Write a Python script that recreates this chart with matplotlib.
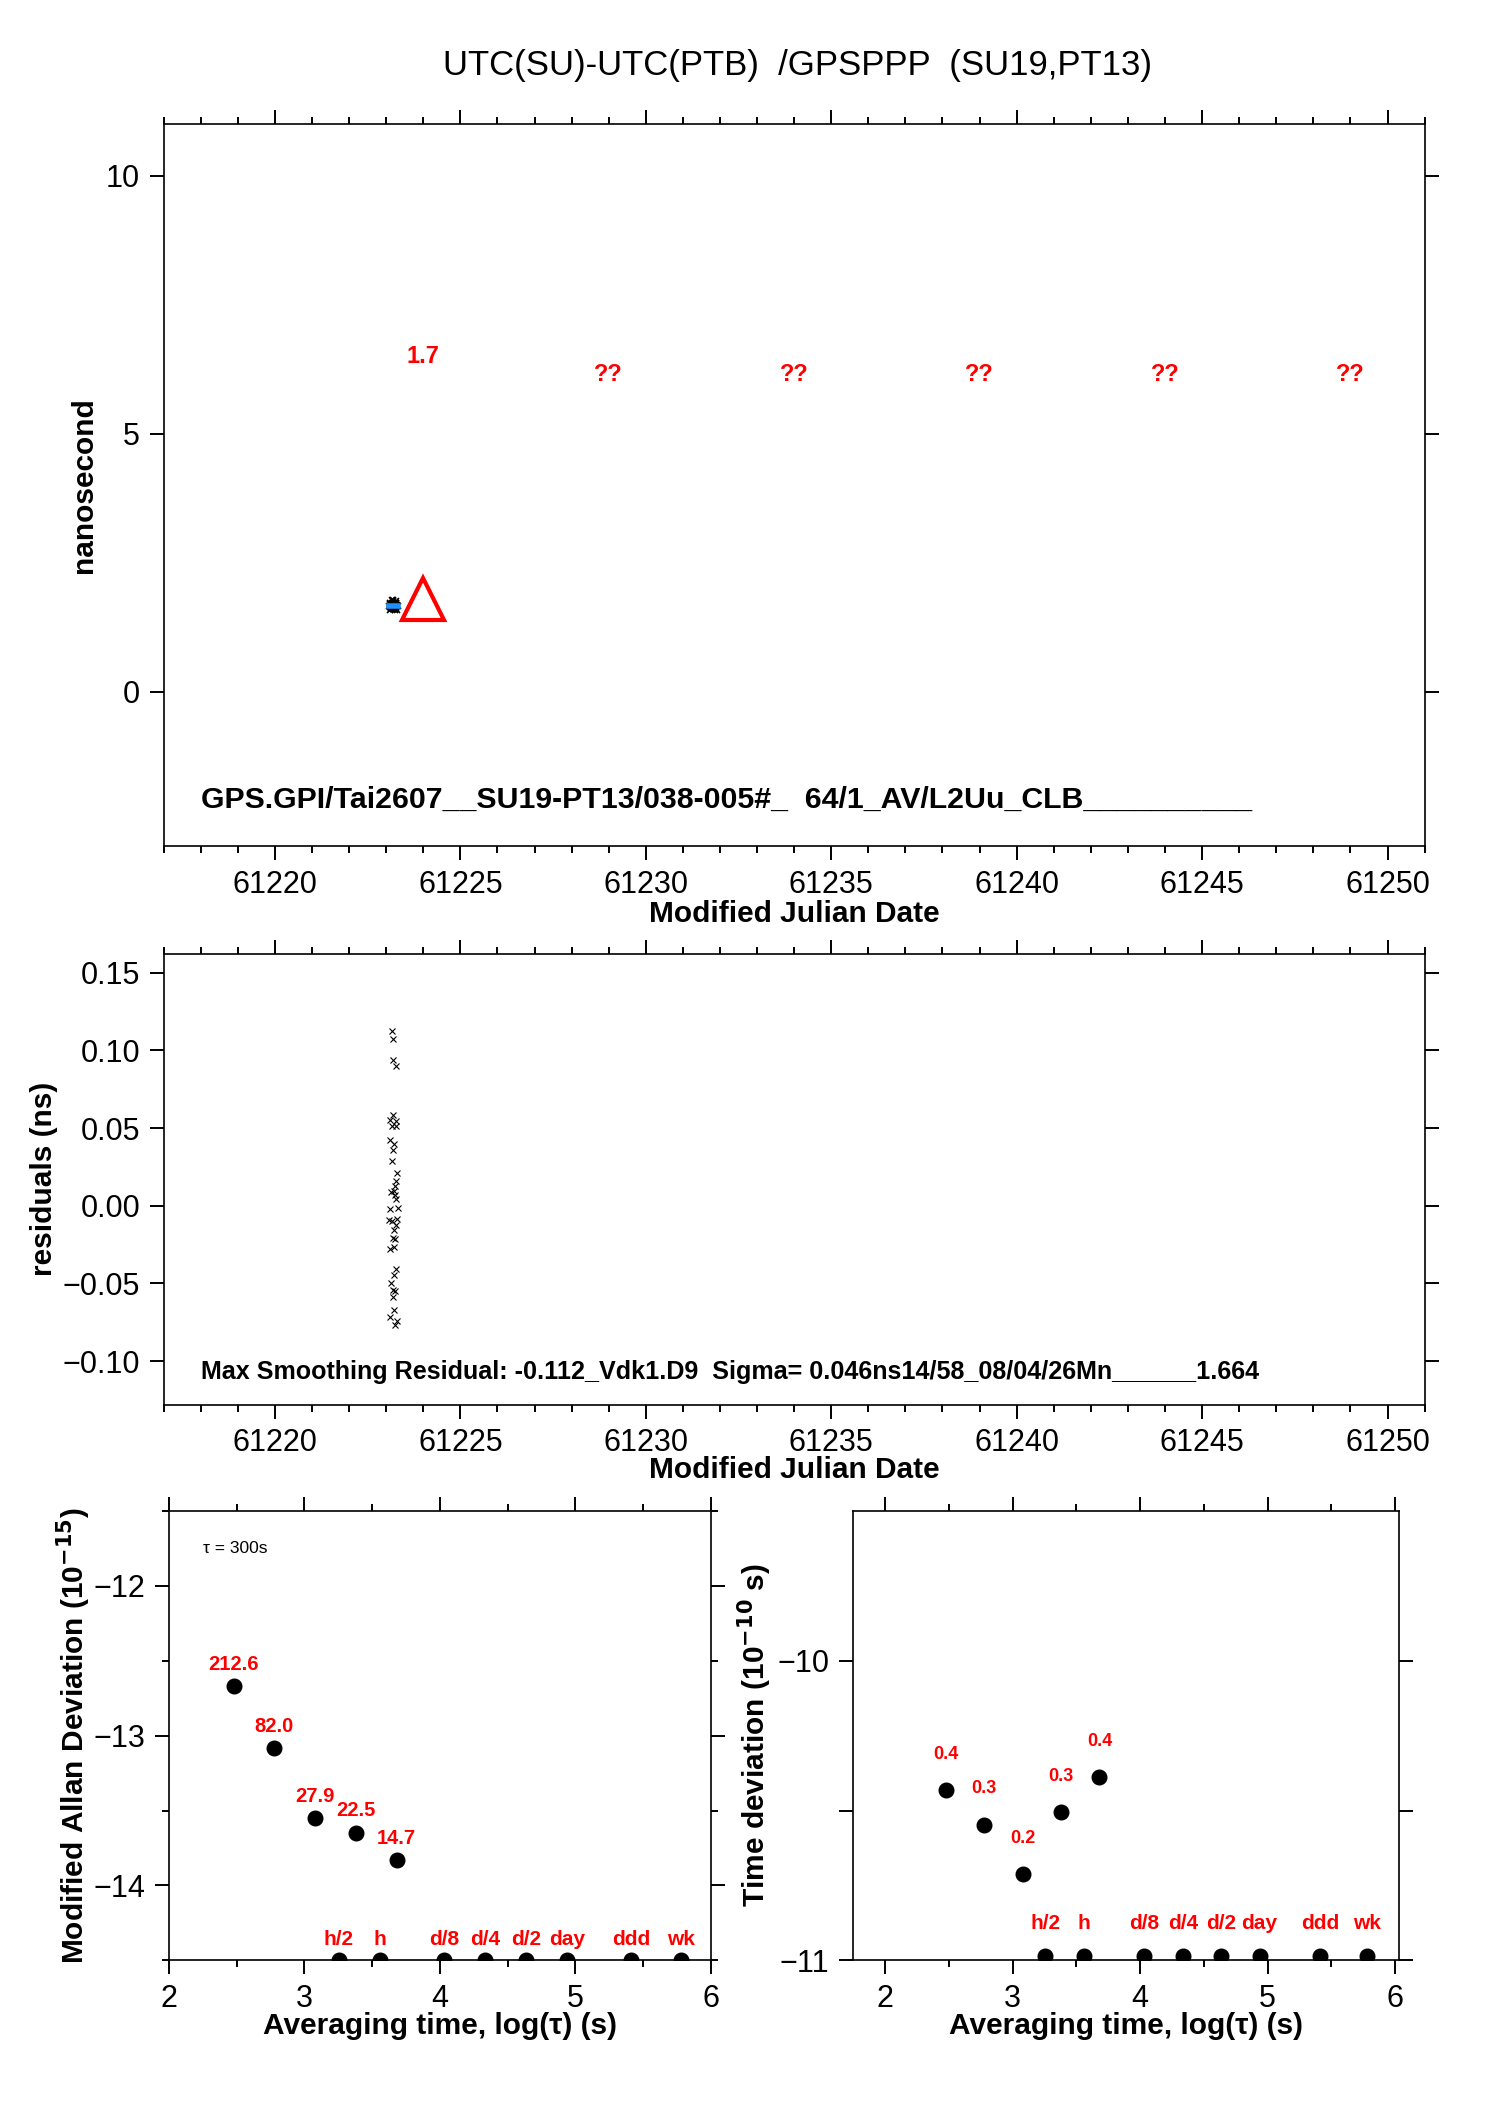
import matplotlib
matplotlib.use("Agg")
import matplotlib.pyplot as plt
from matplotlib.ticker import MultipleLocator, FuncFormatter

plt.rcParams['font.family'] = ['Liberation Sans', 'DejaVu Sans']
plt.rcParams['axes.unicode_minus'] = True

# --- top panel: UTC(SU)-UTC(PTB) in ns ---
raw_x = [61223.15, 61223.19, 61223.17, 61223.27, 61223.18, 61223.09, 61223.26,
         61223.15, 61223.26, 61223.11, 61223.22, 61223.19, 61223.15, 61223.28,
         61223.26, 61223.24, 61223.12, 61223.22, 61223.23, 61223.26, 61223.31,
         61223.11, 61223.08, 61223.15, 61223.28, 61223.26, 61223.21, 61223.19,
         61223.24, 61223.20, 61223.10, 61223.26, 61223.22, 61223.13, 61223.17,
         61223.23, 61223.19, 61223.22, 61223.11, 61223.28, 61223.24]
residuals = [0.1125, 0.107, 0.094, 0.090, 0.0585, 0.055, 0.0546, 0.0514, 0.051,
             0.042, 0.0396, 0.036, 0.029, 0.021, 0.016, 0.013, 0.0086, 0.0092,
             0.007, 0.0043, -0.0017, -0.002, -0.0092, -0.010, -0.0086, -0.0122,
             -0.0156, -0.0208, -0.0216, -0.0268, -0.0276, -0.0407, -0.0443,
             -0.050, -0.054, -0.0546, -0.059, -0.067, -0.0718, -0.0743, -0.077]
smooth_level = 1.664
smooth_x = [61223.08, 61223.31]
smooth_y = [1.664, 1.664]
daily_x = [61224.0]
daily_y = [1.8]
day_label_x = [61224, 61229, 61234, 61239, 61244, 61249]
day_label_y = [6.5, 6.15, 6.15, 6.15, 6.15, 6.15]
day_label_txt = ['1.7', '??', '??', '??', '??', '??']

# --- bottom panels: stability ---
log_tau = [2.477, 2.778, 3.079, 3.380, 3.681]
mdev = [-12.671, -13.084, -13.553, -13.647, -13.831]
mdev_txt = ['212.6', '82.0', '27.9', '22.5', '14.7']
tdev = [-10.433, -10.547, -10.712, -10.506, -10.389]
tdev_txt = ['0.4', '0.3', '0.2', '0.3', '0.4']
mark_tau = [3.255, 3.556, 4.033, 4.334, 4.635, 4.936, 5.414, 5.782]
mark_txt = ['h/2', 'h', 'd/8', 'd/4', 'd/2', 'day', 'ddd', 'wk']

title = "UTC(SU)-UTC(PTB)  /GPSPPP  (SU19,PT13)"
top_note = "GPS.GPI/Tai2607__SU19-PT13/038-005#_  64/1_AV/L2Uu_CLB__________"
mid_note = "Max Smoothing Residual: -0.112_Vdk1.D9  Sigma= 0.046ns14/58_08/04/26Mn______1.664"

RED = '#ff0000'


def minus(fmt):
    def f(v, pos):
        s = fmt.format(v)
        if float(s) == 0:
            s = s.replace('-', '')
        return s.replace('-', '\u2212')
    return FuncFormatter(f)


def style(ax):
    for sp in ax.spines.values():
        sp.set_linewidth(1.2)
    ax.tick_params(which='both', direction='out', top=True, right=True,
                   width=1.4, labelsize=22, pad=7)
    ax.tick_params(which='major', length=10)
    ax.tick_params(which='minor', length=5)


fig = plt.figure(figsize=(14.88, 21.05), dpi=100)
fig.text(0.536, 0.969, title, ha='center', va='center', fontsize=25)

# top panel
ax1 = fig.add_axes([0.110, 0.5979, 0.8474, 0.3430])
style(ax1)
raw_y = [smooth_level + r for r in residuals]
ax1.plot(raw_x, raw_y, 'x', color='black', ms=4, mew=1.2)
ax1.plot(smooth_x, smooth_y, color='#1e90ff', lw=4)
ax1.plot(daily_x, daily_y, '^', ms=30, mfc='none', mec=RED, mew=3)
for x, y, t in zip(day_label_x, day_label_y, day_label_txt):
    ax1.text(x, y, t, color=RED, fontsize=17, fontweight='bold', ha='center', va='center')
ax1.text(61218.0, -2.1, top_note, fontsize=21.75, fontweight='bold', va='center')
ax1.set_xlim(61217, 61251)
ax1.set_ylim(-3, 11)
ax1.xaxis.set_major_locator(MultipleLocator(5))
ax1.xaxis.set_minor_locator(MultipleLocator(1))
ax1.set_yticks([0, 5, 10])
ax1.yaxis.set_major_formatter(minus('{:.0f}'))
ax1.set_xlabel('Modified Julian Date', fontsize=21.5, fontweight='bold')
ax1.xaxis.set_label_coords(0.5, -0.074)
ax1.xaxis.label.set_va('top')
ax1.set_ylabel('nanosecond', fontsize=21.5, fontweight='bold')
ax1.yaxis.set_label_coords(-0.052, 0.5)

# residuals panel
ax2 = fig.add_axes([0.110, 0.3327, 0.8474, 0.2141])
style(ax2)
ax2.plot(raw_x, residuals, 'x', color='black', ms=4, mew=0.8)
ax2.text(61218.0, -0.107, mid_note, fontsize=18.1, fontweight='bold', va='center')
ax2.set_xlim(61217, 61251)
ax2.set_ylim(-0.128, 0.162)
ax2.xaxis.set_major_locator(MultipleLocator(5))
ax2.xaxis.set_minor_locator(MultipleLocator(1))
ax2.set_yticks([-0.10, -0.05, 0.0, 0.05, 0.10, 0.15])
ax2.yaxis.set_major_formatter(minus('{:.2f}'))
ax2.set_xlabel('Modified Julian Date', fontsize=21.5, fontweight='bold')
ax2.xaxis.set_label_coords(0.5, -0.115)
ax2.set_ylabel('residuals (ns)', fontsize=21.5, fontweight='bold')
ax2.yaxis.set_label_coords(-0.084, 0.5)

# modified Allan deviation
ax3 = fig.add_axes([0.1136, 0.0687, 0.3641, 0.2136])
style(ax3)
ax3.plot(log_tau, mdev, 'o', color='black', ms=10.5)
for x, y, t in zip(log_tau, mdev, mdev_txt):
    ax3.text(x, y + 0.144, t, color=RED, fontsize=14.5, fontweight='bold', ha='center', va='center')
ax3.plot(mark_tau, [-14.5] * len(mark_tau), 'o', color='black', ms=10.5)
for x, t in zip(mark_tau, mark_txt):
    ax3.text(x, -14.36, t, color=RED, fontsize=15, fontweight='bold', ha='center', va='center')
ax3.text(2.49, -11.75, '\u03c4 = 300s', fontsize=12.5, ha='center', va='center')
ax3.set_xlim(2, 6)
ax3.set_ylim(-14.5, -11.5)
ax3.xaxis.set_major_locator(MultipleLocator(1))
ax3.xaxis.set_minor_locator(MultipleLocator(0.5))
ax3.yaxis.set_major_locator(MultipleLocator(1))
ax3.yaxis.set_minor_locator(MultipleLocator(0.5))
ax3.yaxis.set_major_formatter(minus('{:.0f}'))
ax3.set_xlabel('Averaging time, log(\u03c4) (s)', fontsize=21.5, fontweight='bold')
ax3.xaxis.set_label_coords(0.5, -0.115)
ax3.set_ylabel('Modified Allan Deviation (10$^{\\mathbf{-15}}$)', fontsize=21.5, fontweight='bold')
ax3.yaxis.set_label_coords(-0.14, 0.5)

# time deviation
ax4 = fig.add_axes([0.5734, 0.0687, 0.3668, 0.2136])
style(ax4)
ax4.plot(log_tau, tdev, 'o', color='black', ms=10.5)
for x, y, t in zip(log_tau, tdev, tdev_txt):
    ax4.text(x, y + 0.12, t, color=RED, fontsize=13, fontweight='bold', ha='center', va='center')
ax4.plot(mark_tau, [-10.985] * len(mark_tau), 'o', color='black', ms=10.5)
for x, t in zip(mark_tau, mark_txt):
    ax4.text(x, -10.878, t, color=RED, fontsize=15, fontweight='bold', ha='center', va='center')
ax4.set_xlim(1.75, 6.03)
ax4.set_ylim(-11, -9.5)
ax4.xaxis.set_major_locator(MultipleLocator(1))
ax4.xaxis.set_minor_locator(MultipleLocator(0.5))
ax4.set_yticks([-11, -10])
ax4.set_yticks([-10.5], minor=True)
ax4.tick_params(axis='y', which='minor', length=10)
ax4.yaxis.set_major_formatter(minus('{:.0f}'))
ax4.set_xlabel('Averaging time, log(\u03c4) (s)', fontsize=21.5, fontweight='bold')
ax4.xaxis.set_label_coords(0.5, -0.115)
ax4.set_ylabel('Time deviation (10$^{\\mathbf{-10}}$ s)', fontsize=21.5, fontweight='bold')
ax4.yaxis.set_label_coords(-0.145, 0.5)

fig.savefig('out.png', dpi=100)
